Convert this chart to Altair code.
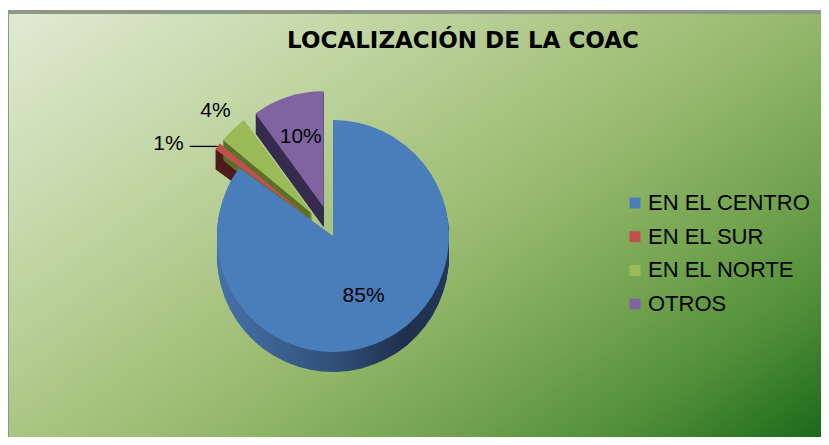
import math
import altair as alt
import pandas as pd

# ---- data ----
categories = ["EN EL CENTRO", "EN EL SUR", "EN EL NORTE", "OTROS"]
values = [85, 1, 4, 10]
labels = ["85%", "1%", "4%", "10%"]
title_text = "LOCALIZACIÓN DE LA COAC"

# ---- styles ----
top_colors = ["#4a7ebb", "#c0504d", "#9bbb59", "#8064a2"]
side_colors = ["#2f4c74", "#4e1c1c", "#5a7128", "#362a4d"]
FONT = "Liberation Sans"
W, H = 813, 429
CX, CY, R = 325, 228, 116
DEPTH = 20
EXPLODE = 0.26

total = sum(values)
df = pd.DataFrame({"cat": categories, "value": values, "label": labels, "order": list(range(len(values)))})
df["end"] = df["value"].cumsum() / total
df["start"] = df["end"] - df["value"] / total
df["mid"] = (df["start"] + df["end"]) / 2

xs = alt.Scale(domain=[-1, 1], range=[CX - R, CX + R])
ys = alt.Scale(domain=[-1, 1], range=[CY - R, CY + R])
ts = alt.Scale(domain=[0, 1], range=[0, 2 * math.pi])

base = alt.Chart(df).transform_calculate(
    ex=f"datum.cat == 'EN EL CENTRO' ? 0 : {EXPLODE}",
).transform_calculate(
    dx="datum.ex * sin(2 * PI * datum.mid)",
    dy="-datum.ex * cos(2 * PI * datum.mid)",
)

def arc_enc(color_scale=None):
    enc = dict(
        x=alt.X("dx:Q", scale=xs, axis=None),
        y=alt.Y("dy:Q", scale=ys, axis=None),
        theta=alt.Theta("start:Q", scale=ts, stack=None),
        theta2="end:Q",
    )
    if color_scale is not None:
        enc["color"] = alt.Color("cat:N", scale=color_scale, legend=None)
    return enc

blue_side_grad = alt.Gradient(
    gradient="linear",
    stops=[alt.GradientStop(color="#4672a8", offset=0),
           alt.GradientStop(color="#31507a", offset=0.5),
           alt.GradientStop(color="#1f2f4c", offset=0.82),
           alt.GradientStop(color="#24385a", offset=1)],
    x1=0, x2=1, y1=0, y2=0,
)

layers = []

# background
bg = pd.DataFrame({"k": [0]})
layers.append(alt.Chart(bg).mark_rect(color="#8e9886").encode(
    x=alt.value(0), x2=alt.value(W), y=alt.value(2), y2=alt.value(H)))
layers.append(alt.Chart(bg).mark_rect(
    color=alt.Gradient(
        gradient="linear",
        stops=[alt.GradientStop(color="#e0ead3", offset=0),
               alt.GradientStop(color="#c3d7a6", offset=0.25),
               alt.GradientStop(color="#a8c37f", offset=0.45),
               alt.GradientStop(color="#94b86b", offset=0.57),
               alt.GradientStop(color="#72a34e", offset=0.73),
               alt.GradientStop(color="#4f8d37", offset=0.86),
               alt.GradientStop(color="#1a6a19", offset=1)],
        x1=0, y1=0, x2=1.12, y2=0.84,
    )).encode(x=alt.value(1), x2=alt.value(W), y=alt.value(6), y2=alt.value(H)))

# pie sides (3D depth)
for k in range(1, DEPTH + 1):
    layers.append(base.transform_filter("datum.cat != 'EN EL CENTRO'").mark_arc(radius=R, yOffset=k).encode(
        **arc_enc(alt.Scale(domain=categories, range=side_colors))))
    layers.append(base.transform_filter("datum.cat == 'EN EL CENTRO'").mark_arc(
        radius=R, yOffset=k, fill=blue_side_grad).encode(**arc_enc()))

# pie tops
layers.append(base.mark_arc(radius=R).encode(**arc_enc(alt.Scale(domain=categories, range=top_colors))))

# slice labels
lab = base.transform_calculate(
    lr="datum.cat == 'EN EL CENTRO' ? 0.58 : (datum.cat == 'OTROS' ? 0.64 : (datum.cat == 'EN EL NORTE' ? 1.22 : 1.0))"
).transform_calculate(
    lx="datum.dx + datum.lr * sin(2 * PI * datum.mid)",
    ly="datum.dy - datum.lr * cos(2 * PI * datum.mid)",
    lx2="datum.dx + datum.lr * sin(2 * PI * datum.mid) - 0.24",
)
layers.append(lab.transform_filter("datum.cat != 'EN EL SUR'").mark_text(
    font=FONT, fontSize=21, color="#000000", align="center", baseline="middle").encode(
    x=alt.X("lx:Q", scale=xs, axis=None), y=alt.Y("ly:Q", scale=ys, axis=None), text="label:N"))
layers.append(lab.transform_filter("datum.cat == 'EN EL SUR'").mark_rule(color="#000000", strokeWidth=1.3).encode(
    x=alt.X("lx:Q", scale=xs, axis=None), x2="lx2:Q", y=alt.Y("ly:Q", scale=ys, axis=None)))
layers.append(lab.transform_filter("datum.cat == 'EN EL SUR'").mark_text(
    font=FONT, fontSize=21, color="#000000", align="right", baseline="middle", dx=-6, dy=-2).encode(
    x=alt.X("lx2:Q", scale=xs, axis=None), y=alt.Y("ly:Q", scale=ys, axis=None), text="label:N"))

# title
tdf = pd.DataFrame({"t": [title_text]})
layers.append(alt.Chart(tdf).mark_text(
    font="DejaVu Sans", fontSize=23, fontWeight="bold", color="#000000", align="center", baseline="middle").encode(
    x=alt.value(455), y=alt.value(33), text="t:N"))

# legend
ly = alt.Scale(domain=categories, range=[195, 296], type="point", padding=0)
layers.append(alt.Chart(df).mark_square(size=121, opacity=1, filled=True).encode(
    x=alt.value(627), y=alt.Y("cat:N", scale=ly, axis=None),
    color=alt.Color("cat:N", scale=alt.Scale(domain=categories, range=top_colors), legend=None)))
layers.append(alt.Chart(df).mark_text(
    font=FONT, fontSize=22, color="#000000", align="left", baseline="middle").encode(
    x=alt.value(640), y=alt.Y("cat:N", scale=ly, axis=None), text="cat:N"))

chart = alt.layer(*layers).resolve_scale(
    x="independent", y="independent", color="independent"
).properties(
    width=W, height=H, padding=0, autosize=alt.AutoSizeParams(type="none")
).configure_view(stroke=None)

chart.save("out.html", embed_options={"renderer": "svg", "actions": False})
